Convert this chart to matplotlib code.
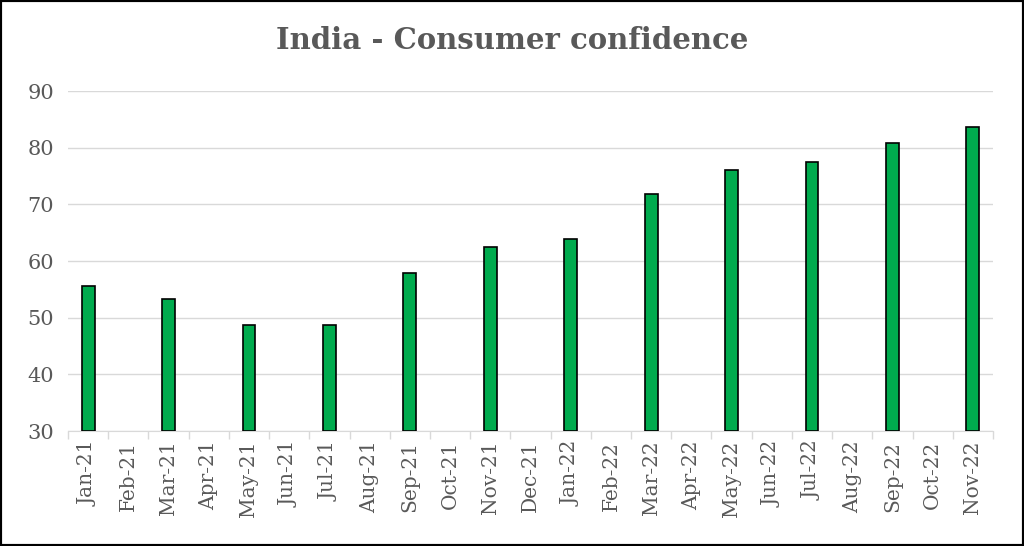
import matplotlib
matplotlib.use("Agg")
import matplotlib.pyplot as plt
from matplotlib.patches import Rectangle

months = ["Jan-21", "Feb-21", "Mar-21", "Apr-21", "May-21", "Jun-21", "Jul-21", "Aug-21",
          "Sep-21", "Oct-21", "Nov-21", "Dec-21", "Jan-22", "Feb-22", "Mar-22", "Apr-22",
          "May-22", "Jun-22", "Jul-22", "Aug-22", "Sep-22", "Oct-22", "Nov-22"]
values = [55.6, None, 53.3, None, 48.7, None, 48.7, None, 57.9, None, 62.5, None,
          63.9, None, 71.8, None, 76.1, None, 77.5, None, 80.8, None, 83.6]

grey = "#595959"
fig = plt.figure(figsize=(10.24, 5.46), dpi=100)
ax = fig.add_axes([0.0664, 0.2106, 0.9033, 0.6227])

xs = [i for i, v in enumerate(values) if v is not None]
ys = [v - 30 for v in values if v is not None]
ax.bar(xs, ys, bottom=30, width=0.32, color="#00AB4E", edgecolor="black", linewidth=1.2, zorder=3)

ax.set_xlim(-0.5, len(months) - 0.5)
ax.set_ylim(30, 90)
ax.set_yticks(range(30, 91, 10))
ax.set_xticks(range(len(months)))
ax.set_xticklabels(months, rotation=90, fontsize=14.5, color=grey, family="DejaVu Serif")
ax.set_xticks([i - 0.5 for i in range(len(months) + 1)], minor=True)
ax.tick_params(axis="x", which="major", length=0, pad=7)
ax.tick_params(axis="x", which="minor", length=6, color="#d9d9d9", width=1)
ax.tick_params(axis="y", length=0, labelsize=15, labelcolor=grey, pad=10)
for lab in ax.get_yticklabels():
    lab.set_family("DejaVu Serif")
ax.grid(axis="y", color="#d9d9d9", linewidth=1, zorder=0)
for s in ["top", "right", "left"]:
    ax.spines[s].set_visible(False)
ax.spines["bottom"].set_color("#d9d9d9")

fig.text(0.5, 0.925, "India - Consumer confidence", ha="center", va="center",
         fontsize=21, fontweight="bold", color=grey, family="DejaVu Serif")

fig.patches.append(Rectangle((0, 0), 1, 1, transform=fig.transFigure, fill=False,
                             edgecolor="black", linewidth=3))
fig.savefig("out.png", dpi=100)
